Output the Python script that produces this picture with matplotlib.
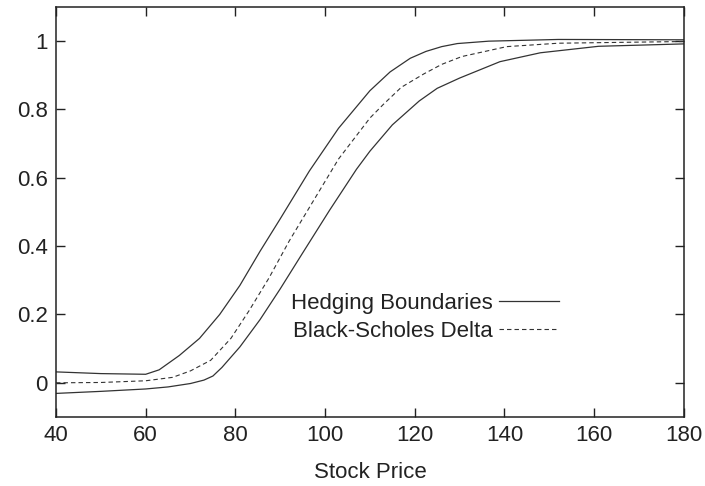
import numpy as np
import matplotlib
matplotlib.use("Agg")
import matplotlib.pyplot as plt
from matplotlib.ticker import FormatStrFormatter

plt.rcParams['font.family'] = ['Liberation Sans', 'DejaVu Sans']
plt.rcParams['lines.scale_dashes'] = False

# upper hedging boundary
x_up = [40, 50, 60, 63, 67.5, 72, 76.5, 81, 85.5, 90, 96.5, 103, 110, 114.5, 119, 122.5, 126, 129.5, 136.5, 152, 180]
y_up = [0.032, 0.027, 0.025, 0.038, 0.080, 0.130, 0.200, 0.285, 0.385, 0.480, 0.620, 0.745, 0.855, 0.910, 0.950, 0.970, 0.984, 0.993, 1.000, 1.005, 1.004]

# Black-Scholes delta
x_bs = [40, 50, 60, 66, 70, 74.5, 79, 83, 87.5, 92, 97.5, 103, 110, 113, 117, 122, 126, 130.5, 140.5, 152, 180]
y_bs = [0.0, 0.001, 0.006, 0.016, 0.035, 0.066, 0.130, 0.210, 0.307, 0.415, 0.535, 0.655, 0.775, 0.815, 0.865, 0.904, 0.932, 0.955, 0.984, 0.994, 0.999]

# lower hedging boundary
x_lo = [40, 50, 60, 65, 70, 73, 75, 77, 81, 85.5, 90, 95, 101, 107, 110, 115, 121, 125, 130, 139, 148, 161, 180]
y_lo = [-0.031, -0.025, -0.018, -0.012, -0.002, 0.008, 0.020, 0.045, 0.105, 0.185, 0.275, 0.380, 0.505, 0.625, 0.678, 0.755, 0.825, 0.862, 0.892, 0.940, 0.966, 0.985, 0.992]

fig = plt.figure(figsize=(7.05, 4.86), dpi=100)
ax = fig.add_axes([0.0794, 0.142, 0.8906, 0.8436])

col = '#333333'
ax.plot(x_up, y_up, color=col, lw=0.9, label='Hedging Boundaries')
ax.plot(x_lo, y_lo, color=col, lw=0.9)
ax.plot(x_bs, y_bs, color=col, lw=0.8, dashes=(3.2, 2.2), label='Black-Scholes Delta')

ax.set_xlim(40, 180)
ax.set_ylim(-0.1, 1.1)
ax.set_xticks(np.arange(40, 181, 20))
ax.set_yticks([0, 0.2, 0.4, 0.6, 0.8, 1])
ax.yaxis.set_major_formatter(FormatStrFormatter('%g'))
ax.tick_params(direction='in', length=6.5, width=1.0, top=True, right=True,
               labelsize=16, colors='#222222', pad=6)
for s in ax.spines.values():
    s.set_linewidth(1.1)
    s.set_color('#222222')

ax.set_xlabel('Stock Price', fontsize=16, color='#222222', labelpad=11)

leg = ax.legend(loc='center left', bbox_to_anchor=(0.342, 0.243), frameon=False,
                markerfirst=False, fontsize=16, handlelength=2.7,
                handletextpad=0.3, labelspacing=0.3)
for t in leg.get_texts():
    t.set_color('#222222')

fig.savefig('out.png', dpi=100)
